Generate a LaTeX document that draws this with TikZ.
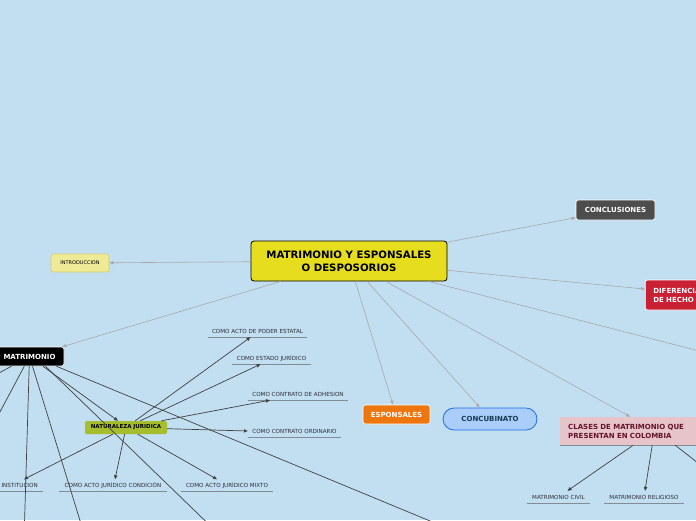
\documentclass[tikz,border=0pt]{standalone}
\usepackage{fontspec}
\setmainfont{DejaVu Sans}
\usetikzlibrary{
    arrows.meta,
    positioning
}
\definecolor{mapbg}{RGB}{194,223,241}
\definecolor{rootyellow}{RGB}{230,221,30}
\definecolor{introyellow}{RGB}{238,234,150}
\definecolor{introdraw}{RGB}{212,205,110}
\definecolor{darkbox}{RGB}{77,77,77}
\definecolor{diffred}{RGB}{202,32,52}
\definecolor{natgreen}{RGB}{166,190,45}
\definecolor{esporange}{RGB}{237,118,14}
\definecolor{concfill}{RGB}{170,205,250}
\definecolor{concdraw}{RGB}{30,110,230}
\definecolor{concttext}{RGB}{20,60,80}
\definecolor{clasespink}{RGB}{230,196,202}
\definecolor{clasestext}{RGB}{100,20,40}
\definecolor{edgegray}{RGB}{168,168,168}
\definecolor{edgedark}{RGB}{64,64,64}
\definecolor{labeltext}{RGB}{45,45,55}
\definecolor{linegray}{RGB}{130,140,150}
\tikzstyle{mainarrow} = [
    -{Triangle[length=4pt,width=3pt]},
    draw=edgegray,
    line width=0.6pt
]
\tikzstyle{subarrow} = [
    -{Triangle[length=4pt,width=3.4pt]},
    draw=edgedark,
    line width=0.7pt
]
\tikzstyle{topic} = [
    rounded corners=2.5pt,
    font=\bfseries\fontsize{7}{9}\selectfont,
    text=white,
    draw=white,
    line width=0.6pt,
    inner sep=0pt
]
\tikzstyle{sublabel} = [
    font=\fontsize{5.6}{6.5}\selectfont,
    text=labeltext,
    minimum height=12pt,
    inner xsep=4pt,
    inner ysep=0pt
]
\tikzstyle{underline} = [
    draw=linegray,
    line width=0.7pt
]

\begin{document}
\begin{tikzpicture}[x=1pt, y=-1pt]
    % Canvas
    \useasboundingbox (0,0) rectangle (696,520);
    \fill[mapbg] (0,0) rectangle (696,520);
    \clip (0,0) rectangle (696,520);

    % Central topic
    \node[rounded corners=3pt, draw=black, line width=0.8pt, fill=rootyellow,
          minimum width=196pt, minimum height=40pt, align=center,
          font=\bfseries\fontsize{10.2}{13}\selectfont] (root) at (349,261)
          {MATRIMONIO Y ESPONSALES\\O DESPOSORIOS};

    % Main topics
    \node[rounded corners=2.5pt, draw=introdraw, fill=introyellow, line width=0.6pt,
          minimum width=58pt, minimum height=18pt, inner sep=0pt,
          font=\fontsize{5}{6}\selectfont] (intro) at (80,263) {INTRODUCCION};
    \node[topic, fill=darkbox, minimum width=79pt, minimum height=20pt] (concl) at (615.5,210) {CONCLUSIONES};
    \node[topic, fill=diffred, minimum height=30pt, text width=110pt, align=left,
          inner xsep=8pt, anchor=west] (dif) at (645,295) {DIFERENCIAS\\DE HECHO};
    \node[topic, fill=black, minimum width=69pt, minimum height=19pt] (matr) at (29.5,356.5) {MATRIMONIO};
    \node[topic, fill=esporange, minimum width=67pt, minimum height=19pt] (espon) at (396.5,414.5) {ESPONSALES};
    \node[rounded corners=11pt, draw=concdraw, fill=concfill, line width=0.8pt,
          minimum width=94pt, minimum height=22pt, inner sep=0pt, text=concttext,
          font=\bfseries\fontsize{7}{9}\selectfont] (conc) at (490,419) {CONCUBINATO};
    \node[fill=clasespink, minimum height=28pt, text width=126pt, align=left,
          inner xsep=8pt, inner ysep=0pt, text=clasestext, anchor=west,
          font=\bfseries\fontsize{7}{9}\selectfont] (clases) at (560,431)
          {CLASES DE MATRIMONIO QUE\\PRESENTAN EN COLOMBIA};
    \draw[underline] (clases.south west) -- (clases.south east);

    % Sub topic
    \node[rounded corners=1.5pt, fill=natgreen, minimum width=82pt, minimum height=13pt,
          inner sep=0pt, font=\bfseries\fontsize{5.5}{6.5}\selectfont] (nat) at (126,427.5) {NATURALEZA JURIDICA};

    % Labels
    \node[sublabel, minimum width=99pt] (poder) at (257.5,331) {COMO ACTO DE PODER ESTATAL};
    \node[sublabel, minimum width=79pt] (estado) at (271.5,358) {COMO ESTADO JURÍDICO};
    \node[sublabel, minimum width=100pt] (adhes) at (298,394) {COMO CONTRATO DE ADHESION};
    \node[sublabel, minimum width=93pt] (ordin) at (294.5,431) {COMO CONTRATO ORDINARIO};
    \node[sublabel, minimum width=66pt] (instit) at (10,485.5) {COMO INSTITUCION};
    \node[sublabel, minimum width=108pt] (condic) at (113,485.5) {COMO ACTO JURÍDICO CONDICIÓN};
    \node[sublabel, minimum width=92pt] (mixto) at (227,485.5) {COMO ACTO JURÍDICO MIXTO};
    \node[sublabel, minimum width=63pt] (civil) at (558.5,497) {MATRIMONIO CIVIL};
    \node[sublabel, minimum width=80pt] (relig) at (644,497) {MATRIMONIO RELIGIOSO};
    \foreach \n in {poder,estado,adhes,ordin,instit,condic,mixto,civil,relig} {
        \draw[underline] (\n.south west) -- (\n.south east);
    }

    % Off-canvas ends
    \coordinate (offR) at (750,364);
    \coordinate (mA) at (-40,394);
    \coordinate (mB) at (-15,440);
    \coordinate (mC) at (24,540);
    \coordinate (mD) at (86,540);
    \coordinate (mE) at (225,540);
    \coordinate (mF) at (476,540);
    \coordinate (cOff) at (740,496);

    % Connectors from the central topic
    \draw[mainarrow] (root) -- (intro);
    \draw[mainarrow] (root) -- (concl);
    \draw[mainarrow] (root) -- (dif);
    \draw[mainarrow] (root) -- (offR);
    \draw[mainarrow] (root) -- (matr);
    \draw[mainarrow] (root) -- ([xshift=-3.5pt]espon.north);
    \draw[mainarrow] (root) -- (conc);
    \draw[mainarrow] (root) -- ([xshift=-1pt]clases.north);

    % Connectors from MATRIMONIO
    \draw[subarrow] (matr) -- ([xshift=-8pt]nat.north);
    \foreach \c in {mA,mB,mC,mD} {
        \draw[edgedark, line width=0.7pt] (matr) -- (\c);
    }
    \draw[edgedark, line width=0.7pt] ([xshift=16pt]matr.south) -- (mE);
    \draw[edgedark, line width=0.7pt] ([xshift=27pt]matr.south) -- (mF);

    % Connectors from NATURALEZA JURIDICA
    \draw[subarrow] (nat) -- ([xshift=-7pt]poder.south);
    \draw[subarrow] (nat) -- ([xshift=-11pt]estado.south);
    \draw[subarrow] (nat) -- ([xshift=-28pt]adhes.south);
    \draw[subarrow] (nat) -- (ordin.west);
    \draw[subarrow] (nat) -- ([xshift=14pt]instit.north);
    \draw[subarrow] (nat) -- ([xshift=2pt]condic.north);
    \draw[subarrow] (nat) -- ([xshift=-10pt]mixto.north);

    % Connectors from CLASES
    \draw[subarrow] ([xshift=2pt]clases.south) -- ([xshift=9pt]civil.north);
    \draw[subarrow] ([xshift=21pt]clases.south) -- ([xshift=1pt]relig.north);
    \draw[edgedark, line width=0.7pt] ([xshift=44pt]clases.south) -- (cOff);
\end{tikzpicture}
\end{document}
